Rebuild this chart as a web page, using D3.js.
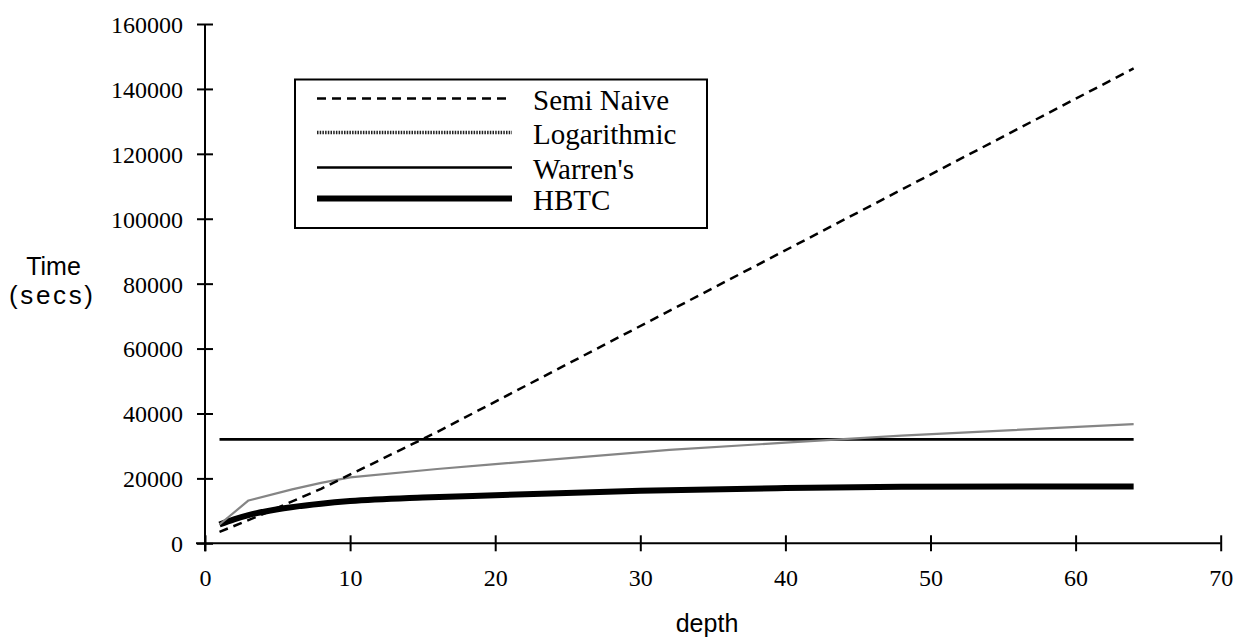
<!DOCTYPE html>
<html>
<head>
<meta charset="utf-8">
<script src="https://cdn.jsdelivr.net/npm/d3@7"></script>
<style>
  body { margin: 0; background: #fff; }
  svg { display: block; }
</style>
</head>
<body>
<div id="chart"></div>
<script>
// depth values and times (secs)
const semiDepth = [1, 4, 8, 16, 32, 64];
const semiTime = [3500, 9000, 16800, 34300, 71600, 146300];

const logDepth = [1, 3, 6, 8, 10, 16, 20, 32, 40, 48, 64];
const logTime = [5800, 13200, 16600, 18600, 20300, 22900, 24400, 28800, 31000, 33200, 36700];

const warrenDepth = [1, 64];
const warrenTime = [32000, 32000];

const hbtcDepth = [1, 2, 3, 5, 8, 10, 15, 20, 30, 40, 48, 64];
const hbtcTime = [5800, 7400, 8700, 10500, 12200, 13000, 14100, 14800, 16200, 17000, 17400, 17500];

const xTicks = [0, 10, 20, 30, 40, 50, 60, 70];
const yTicks = [0, 20000, 40000, 60000, 80000, 100000, 120000, 140000, 160000];
const legendNames = ["Semi Naive", "Logarithmic", "Warren's", "HBTC"];

const width = 1242, height = 637;
const serif = "'Liberation Serif', 'Times New Roman', serif";
const sans = "'Liberation Sans', Arial, sans-serif";

const x = d3.scaleLinear().domain([0, 70]).range([205, 1220.7]);
const y = d3.scaleLinear().domain([0, 160000]).range([543.3, 24]);

const svg = d3.select("#chart")
    .append("svg")
    .attr("width", width)
    .attr("height", height);

// x axis
const xAxis = svg.append("g")
    .attr("transform", `translate(0,${y(0)})`)
    .call(d3.axisBottom(x).tickValues(xTicks).tickSize(8).tickPadding(0))
    .attr("font-family", serif)
    .attr("font-size", 24);
xAxis.select(".domain").remove();
xAxis.selectAll(".tick line").attr("y1", -8).attr("stroke", "#000").attr("stroke-width", 2);
xAxis.selectAll(".tick text")
    .attr("y", 43).attr("dy", null)
    .attr("fill", "#000");

// y axis
const yAxis = svg.append("g")
    .attr("transform", `translate(${x(0)},0)`)
    .call(d3.axisLeft(y).tickValues(yTicks).tickSize(8).tickFormat(d3.format("d")))
    .attr("font-family", serif)
    .attr("font-size", 24);
yAxis.select(".domain").remove();
yAxis.selectAll(".tick line").attr("x1", 8).attr("stroke", "#000").attr("stroke-width", 2);
yAxis.selectAll(".tick text")
    .attr("x", -22).attr("dy", "0.35em")
    .attr("fill", "#000");

// axis lines
svg.append("line")
    .attr("x1", x(0) - 9).attr("x2", x(70))
    .attr("y1", y(0)).attr("y2", y(0))
    .attr("stroke", "#000").attr("stroke-width", 2);
svg.append("line")
    .attr("x1", x(0)).attr("x2", x(0))
    .attr("y1", y(0) + 8).attr("y2", y(160000))
    .attr("stroke", "#000").attr("stroke-width", 2);

// axis titles
svg.append("text")
    .attr("x", 53.5).attr("y", 275)
    .attr("text-anchor", "middle")
    .style("font-family", sans)
    .style("font-size", "25px")
    .text("Time");
svg.append("text")
    .attr("x", 9).attr("y", 304)
    .attr("textLength", 84).attr("lengthAdjust", "spacing")
    .style("font-family", sans)
    .style("font-size", "26px")
    .text("(secs)");
svg.append("text")
    .attr("x", 707).attr("y", 632)
    .attr("text-anchor", "middle")
    .style("font-family", sans)
    .style("font-size", "25px")
    .text("depth");

const smooth = d3.line()
    .x(d => x(d[0]))
    .y(d => y(d[1]))
    .curve(d3.curveMonotoneX);
const straight = d3.line()
    .x(d => x(d[0]))
    .y(d => y(d[1]));

const zip = (a, b) => a.map((v, i) => [v, b[i]]);

// Warren's
svg.append("path")
    .datum(zip(warrenDepth, warrenTime))
    .attr("d", straight)
    .attr("fill", "none").attr("stroke", "#000").attr("stroke-width", 2.7);

// HBTC
svg.append("path")
    .datum(zip(hbtcDepth, hbtcTime))
    .attr("d", smooth)
    .attr("fill", "none").attr("stroke", "#000").attr("stroke-width", 6);

// Logarithmic
svg.append("path")
    .datum(zip(logDepth, logTime))
    .attr("d", straight)
    .attr("fill", "none").attr("stroke", "#858585").attr("stroke-width", 2.2)
    .attr("stroke-linejoin", "round");

// Semi Naive
svg.append("path")
    .datum(zip(semiDepth, semiTime))
    .attr("d", straight)
    .attr("fill", "none").attr("stroke", "#000").attr("stroke-width", 2.5)
    .attr("stroke-dasharray", "9,6");

// legend
const legend = svg.append("g");
legend.append("rect")
    .attr("x", 295).attr("y", 79.5)
    .attr("width", 412).attr("height", 148.5)
    .attr("fill", "#fff").attr("stroke", "#000").attr("stroke-width", 2);

const legendY = [98.5, 132.5, 167.5, 198.5];
const legendStyle = [
    { w: 2.5, dash: "9,6", color: "#000" },
    { w: 3.5, dash: "1.5,1.2", color: "#222" },
    { w: 2.7, dash: null, color: "#000" },
    { w: 6, dash: null, color: "#000" }
];

legendNames.forEach((name, i) => {
    const s = legendStyle[i];
    legend.append("line")
        .attr("x1", 317).attr("x2", 512)
        .attr("y1", legendY[i]).attr("y2", legendY[i])
        .attr("stroke", s.color).attr("stroke-width", s.w)
        .attr("stroke-dasharray", s.dash);
    legend.append("text")
        .attr("x", 533).attr("y", legendY[i] + 11)
        .style("font-family", serif)
        .style("font-size", "29px")
        .text(name);
});
</script>
</body>
</html>
